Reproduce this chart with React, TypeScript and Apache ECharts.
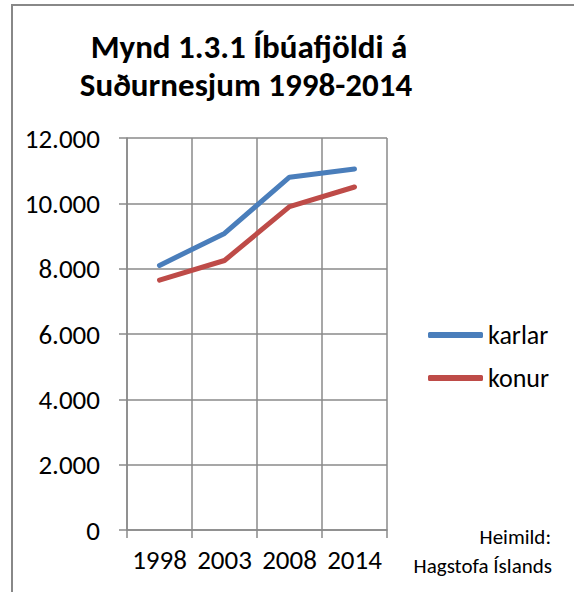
import React, { useEffect, useRef } from "react";
import * as echarts from "echarts";

const categories = ["1998", "2003", "2008", "2014"];
const karlar = [8100, 9080, 10800, 11050];
const konur = [7650, 8250, 9900, 10500];
const titleLines = ["Mynd 1.3.1 Íbúafjöldi á", "Suðurnesjum 1998-2014"];
const sourceLines = ["Heimild:", "Hagstofa Íslands"];

const FONT = "Carlito, 'Open Sans', 'Noto Sans', sans-serif";
const GRID_COLOR = "#8a8a8a";

function fmt(v: number): string {
  return String(v).replace(/\B(?=(\d{3})+(?!\d))/g, ".");
}

export default function App() {
  const ref = useRef<HTMLDivElement>(null);
  useEffect(() => {
    if (!ref.current) return;
    const chart = echarts.init(ref.current, undefined, { renderer: "svg" });
    chart.setOption({
      animation: false,
      backgroundColor: "#ffffff",
      textStyle: { fontFamily: FONT },
      grid: { left: 127, right: 187, top: 138, bottom: 62, containLabel: false },
      xAxis: {
        type: "category",
        data: categories,
        boundaryGap: true,
        axisLine: { show: true, lineStyle: { color: GRID_COLOR, width: 1.5 } },
        axisTick: { show: true, interval: 0, length: 8, alignWithLabel: false, lineStyle: { color: GRID_COLOR, width: 1.5 } },
        splitLine: { show: true, interval: 0, lineStyle: { color: GRID_COLOR, width: 1.5 } },
        axisLabel: { color: "#000", fontSize: 27, margin: 16, interval: 0, hideOverlap: false, fontFamily: FONT },
      },
      yAxis: {
        type: "value",
        min: 0,
        max: 12000,
        interval: 2000,
        axisLine: { show: true, lineStyle: { color: GRID_COLOR, width: 1.5 } },
        axisTick: { show: true, length: 8, lineStyle: { color: GRID_COLOR, width: 1.5 } },
        splitLine: { show: true, lineStyle: { color: GRID_COLOR, width: 1.5 } },
        axisLabel: { color: "#000", fontSize: 27, margin: 27, fontFamily: FONT, formatter: (v: number) => fmt(v) },
      },
      legend: {
        orient: "vertical",
        left: 423,
        top: 317,
        itemWidth: 55,
        itemHeight: 6,
        itemGap: 17,
        itemTextGap: 4,
        icon: "roundRect",
        textStyle: { color: "#000", fontSize: 26, fontFamily: FONT },
        data: ["karlar", "konur"],
      },
      series: [
        {
          name: "karlar",
          type: "line",
          data: karlar,
          symbol: "none",
          color: "#4A7EBB",
          lineStyle: { color: "#4A7EBB", width: 5, cap: "round", join: "round" },
        },
        {
          name: "konur",
          type: "line",
          data: konur,
          symbol: "none",
          color: "#BE4B48",
          lineStyle: { color: "#BE4B48", width: 5, cap: "round", join: "round" },
        },
      ],
      graphic: [
        {
          type: "rect",
          shape: { x: 12, y: 5, width: 700, height: 700 },
          style: { fill: "none", stroke: "#888888", lineWidth: 2 },
          silent: true,
        },
        {
          type: "text",
          x: 249,
          y: 47,
          style: {
            text: titleLines[0],
            align: "center",
            verticalAlign: "middle",
            fontSize: 33,
            fontWeight: "bold",
            fontFamily: FONT,
            fill: "#000",
          },
        },
        {
          type: "text",
          x: 246,
          y: 85,
          style: {
            text: titleLines[1],
            align: "center",
            verticalAlign: "middle",
            fontSize: 33,
            fontWeight: "bold",
            fontFamily: FONT,
            fill: "#000",
          },
        },
        {
          type: "text",
          x: 551,
          y: 537,
          style: {
            text: sourceLines[0],
            align: "right",
            verticalAlign: "middle",
            fontSize: 21,
            fontFamily: FONT,
            fill: "#000",
          },
        },
        {
          type: "text",
          x: 552,
          y: 566,
          style: {
            text: sourceLines[1],
            align: "right",
            verticalAlign: "middle",
            fontSize: 21,
            fontFamily: FONT,
            fill: "#000",
          },
        },
      ],
    });
    return () => chart.dispose();
  }, []);
  return (
    <div
      ref={ref}
      style={{ position: "absolute", left: 0, top: 0, width: 574, height: 592 }}
    />
  );
}
